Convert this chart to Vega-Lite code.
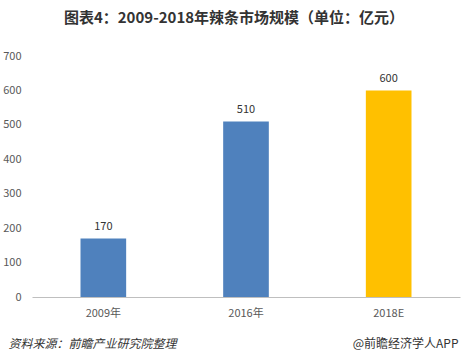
{
  "$schema": "https://vega.github.io/schema/vega-lite/v6.json",
  "width": 428,
  "height": 241,
  "autosize": {"type": "none"},
  "padding": {"left": 32, "top": 56, "right": 8, "bottom": 66},
  "background": "white",
  "config": {"view": {"stroke": null}, "font": "Noto Sans CJK SC"},
  "title": {
    "text": "图表4：2009-2018年辣条市场规模（单位：亿元）",
    "fontSize": 15,
    "fontWeight": "bold",
    "color": "#333333",
    "font": "Noto Sans CJK SC",
    "anchor": "middle",
    "dx": -12,
    "offset": 24
  },
  "data": {
    "values": [
      {"year": "2009年", "value": 170, "type": "actual"},
      {"year": "2016年", "value": 510, "type": "actual"},
      {"year": "2018E", "value": 600, "type": "forecast"}
    ]
  },
  "encoding": {
    "x": {
      "field": "year",
      "type": "nominal",
      "sort": null,
      "scale": {"paddingInner": 0.68, "paddingOuter": 0.34},
      "axis": {
        "title": "@前瞻经济学人APP",
        "titleX": 426,
        "titleY": 46,
        "titleAlign": "right",
        "titleBaseline": "middle",
        "titleFontSize": 12,
        "titleFontWeight": "normal",
        "titleColor": "#333333",
        "titleFont": "Noto Sans CJK SC",
        "labelAngle": 0,
        "labelFontSize": 11,
        "labelColor": "#595959",
        "labelPadding": 10,
        "ticks": false,
        "domainColor": "#bfbfbf",
        "domainWidth": 1
      }
    },
    "y": {
      "field": "value",
      "type": "quantitative",
      "scale": {"domain": [0, 700]},
      "axis": {
        "values": [0, 100, 200, 300, 400, 500, 600, 700],
        "title": "资料来源：前瞻产业研究院整理",
        "titleAngle": 0,
        "titleX": -24,
        "titleY": 287,
        "titleAlign": "left",
        "titleBaseline": "middle",
        "titleFontSize": 12,
        "titleFontWeight": "normal",
        "titleFontStyle": "italic",
        "titleColor": "#333333",
        "titleFont": "Noto Sans CJK SC",
        "grid": false,
        "domain": false,
        "ticks": false,
        "labelPadding": 11,
        "labelFontSize": 11,
        "labelColor": "#595959"
      }
    }
  },
  "layer": [
    {
      "mark": {"type": "bar"},
      "encoding": {
        "color": {
          "field": "type",
          "type": "nominal",
          "scale": {"domain": ["actual", "forecast"], "range": ["#4F81BD", "#FFC000"]},
          "legend": null
        }
      }
    },
    {
      "mark": {"type": "text", "dy": -11, "fontSize": 11, "color": "#333333", "baseline": "middle"},
      "encoding": {"text": {"field": "value", "type": "quantitative"}}
    }
  ]
}
